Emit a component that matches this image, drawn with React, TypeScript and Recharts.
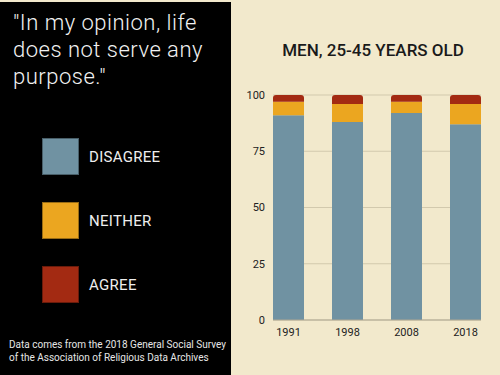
import React from "react";
import { BarChart, Bar, XAxis, YAxis, CartesianGrid } from "recharts";

const years = ["1991", "1998", "2008", "2018"];
const disagree = [91, 88, 92, 87];
const neither = [6, 8, 5, 9];
const agree = [3, 4, 3, 4];
const yTicks = [0, 25, 50, 75, 100];
const seriesNames = ["DISAGREE", "NEITHER", "AGREE"];
const seriesColors = ["#7092A2", "#EBA620", "#A32A12"];

const data = years.map((y, i) => ({
  year: y,
  disagree: disagree[i],
  neither: neither[i],
  agree: agree[i],
}));

const FONT = "Roboto, 'Noto Sans', sans-serif";

export default function App() {
  return (
    <div
      style={{
        position: "fixed",
        left: 0,
        top: 0,
        width: 500,
        height: 375,
        background: "#F2E9CC",
        overflow: "hidden",
        fontFamily: FONT,
      }}
    >
      <div
        style={{
          position: "absolute",
          left: 0,
          top: 2,
          width: 231,
          height: 373,
          background: "#000",
        }}
      />
      <div
        style={{
          position: "absolute",
          left: 13,
          top: 9,
          width: 218,
          color: "#f2f2f2",
          fontSize: 22,
          fontWeight: 300,
          lineHeight: "27px",
          letterSpacing: 0.5,
        }}
      >
        "In my opinion, life does not serve any purpose."
      </div>
      <div style={{ position: "absolute", left: 42, top: 138, width: 180 }}>
        {seriesNames.map((n, i) => (
          <div
            key={n}
            style={{ display: "flex", alignItems: "center", height: 37, marginBottom: 27 }}
          >
            <div
              style={{
                width: 35,
                height: 35,
                background: seriesColors[i],
                border: "1px solid rgba(0,0,0,0.35)",
              }}
            />
            <span
              style={{
                marginLeft: 10,
                color: "#eeeeee",
                fontSize: 15,
                letterSpacing: 0.3,
              }}
            >
              {n}
            </span>
          </div>
        ))}
      </div>
      <div
        style={{
          position: "absolute",
          left: 9,
          top: 338,
          width: 225,
          color: "#e6e6e6",
          fontSize: 10,
          lineHeight: "13px",
        }}
      >
        Data comes from the 2018 General Social Survey of the Association of Religious Data Archives
      </div>
      <div
        style={{
          position: "absolute",
          left: 252,
          top: 40,
          width: 242,
          textAlign: "center",
          color: "#1a1a1a",
          fontSize: 17,
          fontWeight: 500,
        }}
      >
        MEN, 25-45 YEARS OLD
      </div>
      <div style={{ position: "absolute", left: 0, top: 0 }}>
        <BarChart
          width={500}
          height={375}
          data={data}
          margin={{ top: 95, right: 19, bottom: 25, left: 213 }}
          barSize={31}
        >
          <CartesianGrid horizontal vertical={false} stroke="#d2c9ad" />
          <XAxis
            dataKey="year"
            padding={{ left: -14, right: -14 }}
            tickLine={false}
            axisLine={{ stroke: "#aea792" }}
            tick={{ fill: "#222", fontSize: 11, fontFamily: FONT }}
            height={30}
          />
          <YAxis
            width={60}
            domain={[0, 100]}
            ticks={yTicks}
            axisLine={false}
            tickLine={false}
            tick={{ fill: "#222", fontSize: 11, fontFamily: FONT }}
          />
          <Bar dataKey="disagree" name="DISAGREE" stackId="a" fill={seriesColors[0]} isAnimationActive={false} />
          <Bar dataKey="neither" name="NEITHER" stackId="a" fill={seriesColors[1]} isAnimationActive={false} />
          <Bar dataKey="agree" name="AGREE" stackId="a" fill={seriesColors[2]} radius={[3, 3, 0, 0]} isAnimationActive={false} />
        </BarChart>
      </div>
    </div>
  );
}
